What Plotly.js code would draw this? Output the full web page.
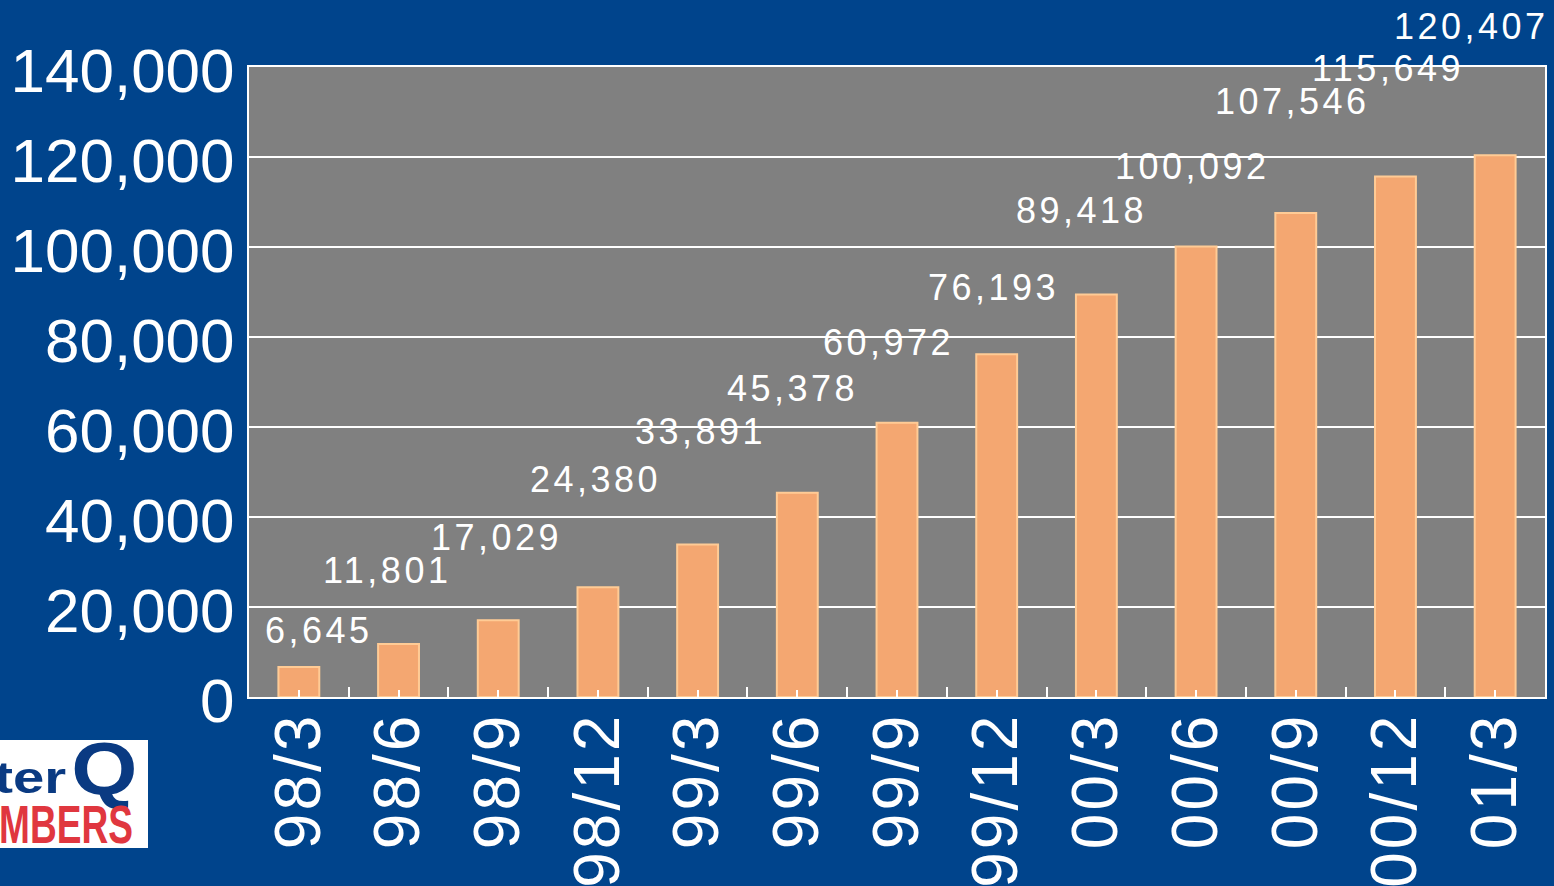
<!DOCTYPE html>
<html>
<head>
<meta charset="utf-8">
<script src="https://cdn.plot.ly/plotly-3.0.1.min.js"></script>
<style>
  html, body { margin: 0; padding: 0; background: #00448C; overflow: hidden; }
  #chart { width: 1554px; height: 886px; }
  .annotation-text { letter-spacing: 3.5px; }
  .xtick text { letter-spacing: 3px; }
  #logo { position: absolute; left: 0; top: 740px; width: 148px; height: 108px; background: #ffffff; overflow: hidden; }
</style>
</head>
<body>
<div id="chart"></div>
<svg id="logo" width="148" height="108" xmlns="http://www.w3.org/2000/svg">
  <text x="53" y="53" transform="scale(1.25,1)" text-anchor="end" font-family="Liberation Sans, Arial, sans-serif" font-weight="bold" font-size="45" fill="#0A3A82">Inter</text>
  <text x="62" y="54" transform="scale(1.15,1)" text-anchor="start" font-family="Liberation Sans, Arial, sans-serif" font-weight="bold" font-size="74" fill="#0A3A82">Q</text>
  <text x="190" y="103" transform="scale(0.7,1)" text-anchor="end" font-family="Liberation Sans, Arial, sans-serif" font-weight="bold" font-size="53" fill="#E0373F">MEMBERS</text>
</svg>
<script>
// ---- data ----
const categories = ["98/3", "98/6", "98/9", "98/12", "99/3", "99/6", "99/9", "99/12", "00/3", "00/6", "00/9", "00/12", "01/3"];
const values = [6645, 11801, 17029, 24380, 33891, 45378, 60972, 76193, 89418, 100092, 107546, 115649, 120407];
const yTickValues = [0, 20000, 40000, 60000, 80000, 100000, 120000, 140000];

// label placement offsets (pixels, relative to bar top)
const labelXShift = [20, -12, -2, -2, 3, -5, -9, -3, -15, -4, -3, -7, -24];
const labelYShift = [37, 73, 83, 108, 113, 104, 80, 67, 84, 80, 112, 108, 129];

const BG = "#00448C";
const FONT = "Liberation Sans, Arial, sans-serif";

const barTrace = {
  type: "bar",
  x: categories,
  y: values,
  xaxis: "x",
  yaxis: "y",
  marker: { color: "#F4A771", line: { color: "#FFCB95", width: 2 } },
  hoverinfo: "x+y"
};

const tickHelper = {
  type: "scatter",
  mode: "markers",
  x: categories,
  y: values,
  xaxis: "x2",
  yaxis: "y",
  marker: { opacity: 0 },
  hoverinfo: "skip",
  showlegend: false
};

const annotations = categories.map((c, i) => ({
  x: c,
  y: values[i],
  xref: "x",
  yref: "y",
  text: values[i].toLocaleString("en-US"),
  showarrow: false,
  xanchor: "center",
  yanchor: "middle",
  xshift: labelXShift[i],
  yshift: labelYShift[i],
  font: { family: FONT, size: 36, color: "#FFFFFF" }
}));

const layout = {
  width: 1554,
  height: 886,
  margin: { l: 249, r: 9, t: 67, b: 189, pad: 0 },
  paper_bgcolor: BG,
  plot_bgcolor: "#808080",
  showlegend: false,
  bargap: 0.59,
  xaxis: {
    type: "category",
    categoryorder: "array",
    categoryarray: categories,
    range: [-0.5, categories.length - 0.5],
    showline: true,
    mirror: true,
    linecolor: "#FFFFFF",
    linewidth: 2,
    ticks: "inside",
    tickson: "boundaries",
    ticklen: 10,
    tickwidth: 2,
    tickcolor: "#FFFFFF",
    tickangle: -90,
    ticklabelstandoff: -12,
    tickfont: { family: FONT, size: 64, color: "#FFFFFF" },
    showgrid: false,
    zeroline: false,
    fixedrange: true
  },
  xaxis2: {
    type: "category",
    categoryorder: "array",
    categoryarray: categories,
    range: [-0.5, categories.length - 0.5],
    overlaying: "x",
    anchor: "y",
    side: "bottom",
    showticklabels: false,
    ticks: "inside",
    ticklen: 7,
    tickwidth: 2,
    tickcolor: "#FFFFFF",
    showgrid: false,
    showline: false,
    zeroline: false,
    fixedrange: true
  },
  yaxis: {
    range: [0, 140000],
    tickvals: yTickValues,
    tickformat: ",d",
    showline: true,
    mirror: true,
    linecolor: "#FFFFFF",
    linewidth: 2,
    ticks: "",
    ticklabelstandoff: 0,
    ticklabelshift: 3,
    tickfont: { family: FONT, size: 62, color: "#FFFFFF" },
    showgrid: true,
    gridcolor: "#FFFFFF",
    gridwidth: 2,
    zeroline: false,
    fixedrange: true
  },
  annotations: annotations
};

Plotly.newPlot("chart", [barTrace, tickHelper], layout, { displayModeBar: false, staticPlot: true });
</script>
</body>
</html>
